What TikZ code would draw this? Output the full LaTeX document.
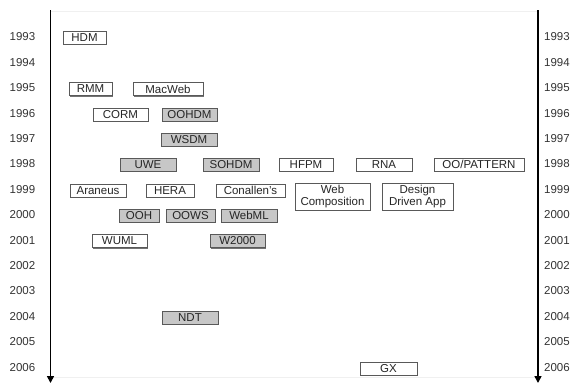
\documentclass[tikz,border=0pt]{standalone}
\usepackage{fontspec}
\setmainfont{Liberation Sans}
\usetikzlibrary{arrows.meta,shadows}
\tikzset{
  mbox/.style={draw=black!65, line width=0.6pt, fill=white, inner sep=0pt, minimum height=13pt,
    font=\fontsize{11.5}{11.5}\selectfont, text=black!85, align=center,
    drop shadow={shadow xshift=0.8pt, shadow yshift=-1.1pt, fill=black!55, opacity=1}},
  gbox/.style={mbox, fill=black!22},
  yr/.style={font=\fontsize{11.5}{12}\selectfont, text=black!80, inner sep=0pt},
  axis/.style={line width=1.6pt, -{Triangle[width=7pt,length=7pt]}},
  faint/.style={draw=black!6, line width=0.5pt}
}
\begin{document}
\begin{tikzpicture}[x=1pt,y=-1pt]
\useasboundingbox (0,0) rectangle (571,383);
\coordinate (lt) at (50.5,10);
\coordinate (lb) at (50.5,383);
\coordinate (rt) at (538,10);
\coordinate (rb) at (538,383);
\coordinate (ft) at (50.5,11.5);
\coordinate (ftr) at (538,11.5);
\coordinate (fb) at (50.5,377.5);
\coordinate (fbr) at (538,377.5);
\draw[faint] (ft) -- (ftr);
\draw[faint] (fb) -- (fbr);
\draw[axis] (lt) -- (lb);
\draw[axis] (rt) -- (rb);
\foreach \yy [count=\i from 0] in {1993,...,2006} {
  \node[yr] (l\yy) at (22.5, 37+25.4*\i) {\yy};
  \node[yr] (r\yy) at (557, 37+25.4*\i) {\yy};
}
\node[mbox, minimum width=43pt] (hdm) at (84.5,37.5) {HDM};
\node[mbox, minimum width=43pt] (rmm) at (90.5,89) {RMM};
\node[mbox, minimum width=70pt] (macweb) at (168,89) {MacWeb};
\node[mbox, minimum width=55pt] (corm) at (120.5,114.5) {CORM};
\node[gbox, minimum width=55pt] (oohdm) at (189.5,114.5) {OOHDM};
\node[gbox, minimum width=56pt] (wsdm) at (189,139.5) {WSDM};
\node[gbox, minimum width=56pt] (uwe) at (148,164.5) {UWE};
\node[gbox, minimum width=56pt] (sohdm) at (231,164.5) {SOHDM};
\node[mbox, minimum width=54pt] (hfpm) at (306,164.5) {HFPM};
\node[mbox, minimum width=56pt] (rna) at (384,164.5) {RNA};
\node[mbox, minimum width=90pt] (oopat) at (479,164.5) {OO/PATTERN};
\node[mbox, minimum width=56pt] (araneus) at (98,190.5) {Araneus};
\node[mbox, minimum width=48pt] (hera) at (170,190.5) {HERA};
\node[mbox, minimum width=69pt] (conallen) at (250.5,190.5) {Conallen's};
\node[mbox, minimum width=75pt, minimum height=27pt] (webcomp) at (332.5,196.5) {Web\\Composition};
\node[mbox, minimum width=71pt, minimum height=27pt] (dda) at (417.5,196.5) {Design\\Driven App};
\node[gbox, minimum width=40pt] (ooh) at (139,215.5) {OOH};
\node[gbox, minimum width=49pt] (oows) at (190.5,215.5) {OOWS};
\node[gbox, minimum width=56pt] (webml) at (249,215.5) {WebML};
\node[mbox, minimum width=55pt] (wuml) at (119.5,241) {WUML};
\node[gbox, minimum width=55pt] (w2000) at (237.5,241) {W2000};
\node[gbox, minimum width=56pt] (ndt) at (190,317.5) {NDT};
\node[mbox, minimum width=57pt] (gx) at (388.5,368.5) {GX};
\end{tikzpicture}
\end{document}
